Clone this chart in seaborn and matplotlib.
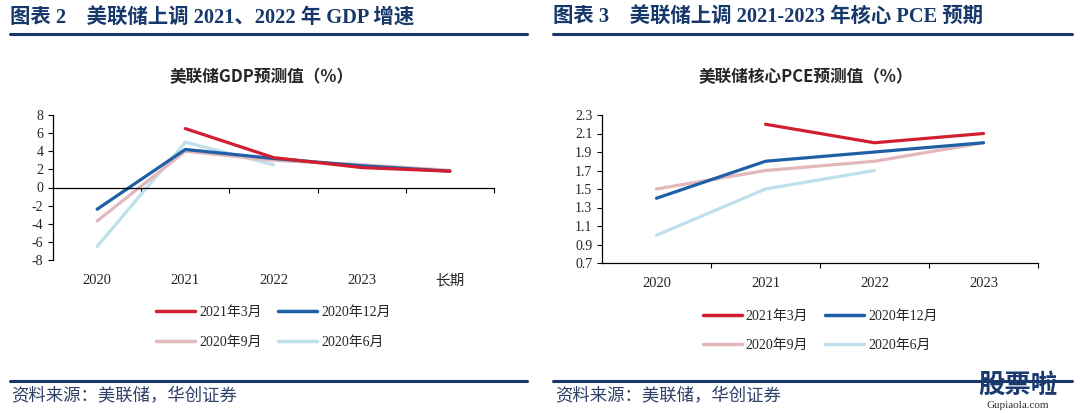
import numpy as np
import pandas as pd
import seaborn as sns
import matplotlib.pyplot as plt
from matplotlib.lines import Line2D

# data
gdp_years = ['2020', '2021', '2022', '2023', '长期']
gdp_2103 = [np.nan, 6.5, 3.3, 2.2, 1.8]
gdp_2012 = [-2.4, 4.2, 3.2, 2.4, 1.8]
gdp_2009 = [-3.7, 4.0, 3.0, 2.5, 1.9]
gdp_2006 = [-6.5, 5.0, 2.5, np.nan, np.nan]

pce_years = ['2020', '2021', '2022', '2023']
pce_2103 = [np.nan, 2.2, 2.0, 2.1]
pce_2012 = [1.4, 1.8, 1.9, 2.0]
pce_2009 = [1.5, 1.7, 1.8, 2.0]
pce_2006 = [1.0, 1.5, 1.7, np.nan]

series_names = ['2021年3月', '2020年12月', '2020年9月', '2020年6月']
series_colors = ['#d11f2f', '#1f5fa6', '#e2b8bc', '#bfe0ea']

sns.set_style('white')
plt.rcParams['font.family'] = ['Liberation Serif', 'Noto Sans CJK SC']
plt.rcParams['axes.unicode_minus'] = False

NAVY = '#17386a'
W, H = 1080, 413


def long_df(years, cols):
    frames = []
    for name, vals in zip(series_names, cols):
        frames.append(pd.DataFrame({'pos': range(len(years)), 'value': vals, 'series': name}))
    return pd.concat(frames).dropna()


def fig_box(x0, y0, x1, y1):
    return [x0 / W, 1 - y1 / H, (x1 - x0) / W, (y1 - y0) / H]


fig = plt.figure(figsize=(10.8, 4.13), dpi=100)
fig.patch.set_facecolor('white')

ax1 = fig.add_axes(fig_box(53, 115, 494, 260))
ax2 = fig.add_axes(fig_box(602, 115, 1038, 263))

gdp_df = long_df(gdp_years, [gdp_2103, gdp_2012, gdp_2009, gdp_2006])
pce_df = long_df(pce_years, [pce_2103, pce_2012, pce_2009, pce_2006])

for ax, df, years in [(ax1, gdp_df, gdp_years), (ax2, pce_df, pce_years)]:
    # draw lighter series first so the dark ones sit on top
    sns.lineplot(data=df, x='pos', y='value', hue='series', hue_order=series_names[::-1],
                 palette=series_colors[::-1], linewidth=2.3, estimator=None, sort=False,
                 legend=False, ax=ax)
    ax.set_xlim(-0.5, len(years) - 0.5)
    ax.set_xticks(np.arange(len(years)) + 0.5)
    ax.set_xticklabels([])
    ax.set_xlabel('')
    ax.set_ylabel('')
    for s in ['top', 'right']:
        ax.spines[s].set_visible(False)
    for s in ['left', 'bottom']:
        ax.spines[s].set_color('black')
        ax.spines[s].set_linewidth(0.9)
    ax.tick_params(axis='both', direction='out', length=3.5, width=0.8, color='black',
                   labelsize=10, left=True, bottom=True)
    sec = ax.secondary_xaxis('bottom')
    sec.set_xticks(range(len(years)))
    sec.set_xticklabels(years, fontsize=10.5)
    sec.tick_params(length=0, pad=10)
    sec.spines['bottom'].set_visible(False)
    ax.patch.set_alpha(0)

ax1.set_ylim(-8, 8)
ax1.set_yticks(np.arange(-8, 9, 2))
ax1.spines['bottom'].set_position(('data', 0))

ax2.set_ylim(0.7, 2.3)
ax2.set_yticks(np.arange(0.7, 2.31, 0.2))
ax2.set_yticklabels(['%.1f' % v for v in np.arange(0.7, 2.31, 0.2)])

# legends, two rows of two
order = [0, 2, 1, 3]
handles = [Line2D([0], [0], color=series_colors[i], lw=2.5) for i in order]
labels = [series_names[i] for i in order]
for ax in [ax1, ax2]:
    ax.legend(handles, labels, ncol=2, frameon=False, loc='upper center',
              bbox_to_anchor=(0.5, -0.23), fontsize=10, handlelength=2.8,
              handletextpad=0.3, columnspacing=1.2, labelspacing=1.2)

# headers
fig.text(10 / W, 1 - 18 / H, '图表 2    美联储上调 2021、2022 年 GDP 增速',
         fontsize=14.7, fontweight='bold', color=NAVY, va='center')
fig.text(553 / W, 1 - 18 / H, '图表 3    美联储上调 2021-2023 年核心 PCE 预期',
         fontsize=14.7, fontweight='bold', color=NAVY, va='center')

fig.text(262 / W, 1 - 77 / H, '美联储GDP预测值（%）', fontsize=12, fontweight='bold',
         ha='center', va='center', family=['Noto Sans CJK SC'])
fig.text(806 / W, 1 - 77 / H, '美联储核心PCE预测值（%）', fontsize=12, fontweight='bold',
         ha='center', va='center', family=['Noto Sans CJK SC'])

for x0, x1 in [(10, 527), (553, 1072)]:
    fig.add_artist(Line2D([x0 / W, x1 / W], [1 - 34 / H, 1 - 34 / H], color=NAVY, lw=2.2))
    fig.add_artist(Line2D([x0 / W, x1 / W], [1 - 381 / H, 1 - 381 / H], color=NAVY, lw=2.2))

fig.text(11 / W, 1 - 396 / H, '资料来源：美联储，华创证券', fontsize=12.5, color='#2e3f66',
         va='center', style='italic', family=['Noto Sans CJK SC'])
fig.text(555 / W, 1 - 396 / H, '资料来源：美联储，华创证券', fontsize=12.5, color='#2e3f66',
         va='center', style='italic', family=['Noto Sans CJK SC'])

# site watermark
fig.text(1018 / W, 1 - 385 / H, '股票啦', fontsize=19, fontweight='bold', color='#1b3b6f',
         ha='center', va='center', family=['Noto Sans CJK SC'])
fig.text(1018 / W, 1 - 405 / H, 'Gupiaola.com', fontsize=8, color='#333333',
         ha='center', va='center')

fig.savefig('out.png', dpi=100, facecolor='white')
